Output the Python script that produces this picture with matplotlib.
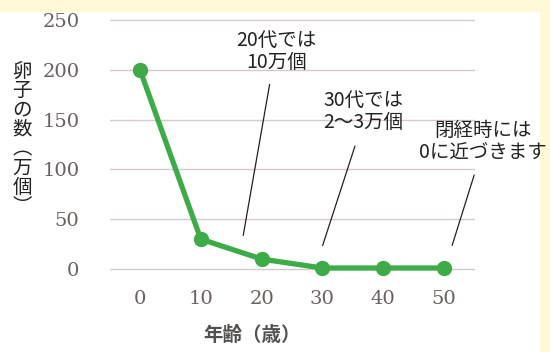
import matplotlib
matplotlib.use('Agg')
import matplotlib.pyplot as plt
from matplotlib.patches import Rectangle

plt.rcParams['font.family'] = ['Noto Sans CJK JP', 'DejaVu Sans']

# data
ages = [0, 10, 20, 30, 40, 50]
eggs = [200, 30, 10, 1, 1, 1]   # 万個
y_ticks = [0, 50, 100, 150, 200, 250]

notes = ['20代では\n10万個', '30代では\n2〜3万個', '閉経時には\n0に近づきます']
note_xy = [(22.5, 218), (36.7, 158), (56.4, 128)]
leader_top = [(21.4, 188), (35.5, 126), (55.1, 97)]
leader_end = [(16.9, 31), (29.9, 21), (51.2, 21)]

green = '#3dab48'
tick_col = '#6b5f5f'

fig = plt.figure(figsize=(5.5, 3.52), dpi=100)
fig.patch.set_facecolor('#fff9d8')
fig.patches.append(Rectangle((0, 0), 540 / 550, 340 / 352, transform=fig.transFigure,
                             facecolor='white', edgecolor='none', zorder=-5))

ax = fig.add_axes([110 / 550, 77 / 352, 365 / 550, 260 / 352])
ax.set_facecolor('none')
ax.plot(ages, eggs, '-o', color=green, linewidth=3.8, markersize=10, clip_on=False, zorder=3)

ax.set_xlim(-4.93, 55.1)
ax.set_ylim(-6, 255)
ax.set_yticks(y_ticks)
ax.set_xticks(ages)
ax.grid(axis='y', color='#d3c9c9', linewidth=1)
ax.grid(axis='x', visible=False)
for s in ax.spines.values():
    s.set_visible(False)
ax.tick_params(length=0, labelsize=14, labelcolor=tick_col)
for lbl in ax.get_xticklabels() + ax.get_yticklabels():
    lbl.set_family('DejaVu Serif')
ax.tick_params(axis='x', pad=11)
ax.tick_params(axis='y', pad=22)

for txt, pos, top, end in zip(notes, note_xy, leader_top, leader_end):
    ax.text(pos[0], pos[1], txt, ha='center', va='center', fontsize=14,
            color='#222222', linespacing=1.05, clip_on=False)
    ax.annotate('', xy=end, xytext=top,
                arrowprops=dict(arrowstyle='-', color='#222222', linewidth=0.9),
                annotation_clip=False)

fig.text(22 / 550, 1 - 139 / 352, '卵\n子\nの\n数\n︵\n万\n個\n︶', ha='center', va='center',
         fontsize=14, color='#222222', linespacing=0.9)
fig.text(252 / 550, 1 - 335 / 352, '年齢（歳）', ha='center', va='center',
         fontsize=14, fontweight='bold', color='#555050')

fig.savefig('out.png', dpi=100, facecolor=fig.get_facecolor())
